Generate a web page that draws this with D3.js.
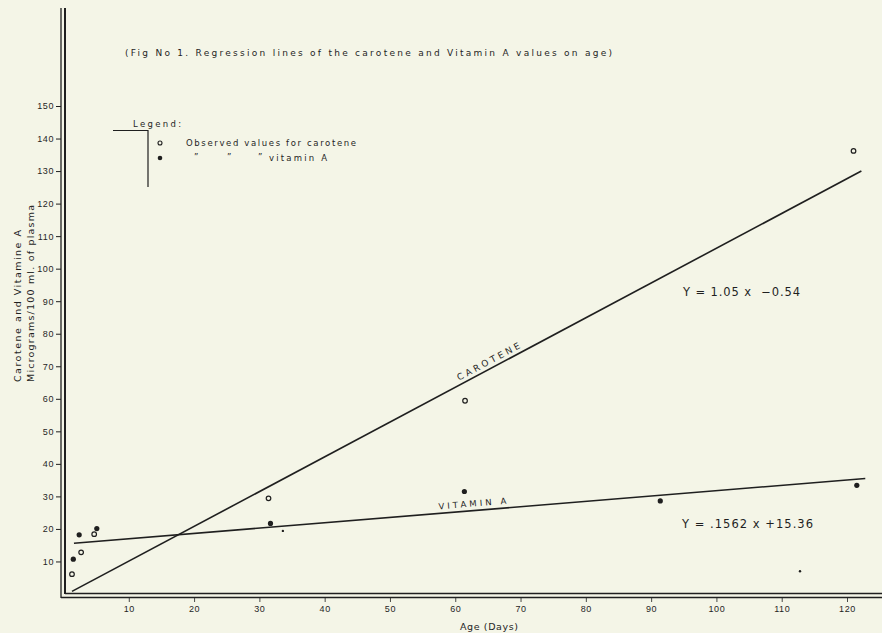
<!DOCTYPE html>
<html>
<head>
<meta charset="utf-8">
<script src="https://cdn.jsdelivr.net/npm/d3@7"></script>
<style>
  body { margin: 0; background: #f4f5e7; }
  svg { display: block; font-family: "DejaVu Sans", sans-serif; }
  .axis text { font-size: 9px; fill: #1f1f1f; }
  .axis line { stroke: #1f1f1f; }
</style>
</head>
<body>
<script>
// Values
let yTicks = [10, 20, 30, 40, 50, 60, 70, 80, 90, 100, 110, 120, 130, 140, 150];
let xTicks = [10, 20, 30, 40, 50, 60, 70, 80, 90, 100, 110, 120];

// observed carotene (open circles)
let caroteneAge = [1.3, 2.7, 4.7, 31.4, 61.5, 121];
let caroteneVal = [6.1, 12.8, 18.4, 29.4, 59.4, 136.2];

// observed vitamin A (filled dots)
let vitaminAge = [1.5, 2.4, 5.1, 31.7, 61.4, 91.4, 121.5];
let vitaminVal = [10.7, 18.2, 20.1, 21.7, 31.5, 28.6, 33.4];

// small unlabelled dots
let looseAge = [33.6, 112.8];
let looseVal = [19.4, 7.0];

// regression lines as drawn (end points)
let caroteneFitX = [1.3, 122.2];
let caroteneFitY = [0.8, 130];
let vitaminFitX = [1.6, 122.8];
let vitaminFitY = [15.6, 35.5];

let ink = "#1f1f1f";
let width = 882, height = 633;

let svg = d3.select("body").append("svg")
    .attr("width", width)
    .attr("height", height);

svg.append("rect").attr("width", width).attr("height", height).attr("fill", "#f4f5e7");

// scales
let x = d3.scaleLinear().domain([0, 120]).range([63.5, 847]);
let y = d3.scaleLinear().domain([0, 150]).range([594, 106]);

// double axis lines
let x0 = x(0), y0 = y(0);
svg.append("line").attr("x1", x0 - 2.5).attr("x2", x0 - 2.5).attr("y1", 8).attr("y2", y0 + 4)
    .attr("stroke", ink).attr("stroke-width", 1.3);
svg.append("line").attr("x1", x0 + 1.5).attr("x2", x0 + 1.5).attr("y1", 8).attr("y2", y0)
    .attr("stroke", ink).attr("stroke-width", 2);
svg.append("line").attr("x1", x0 - 2.5).attr("x2", width).attr("y1", y0 + 3.5).attr("y2", y0 + 3.5)
    .attr("stroke", ink).attr("stroke-width", 1.4);
svg.append("line").attr("x1", x0 + 1.5).attr("x2", width).attr("y1", y0 - 0.5).attr("y2", y0 - 0.5)
    .attr("stroke", ink).attr("stroke-width", 1.4);

// y axis
let yAxis = d3.axisLeft(y).tickValues(yTicks).tickSize(5).tickPadding(2);
let gy = svg.append("g").attr("class", "axis")
    .attr("transform", "translate(" + (x0 - 2.5) + ",0)")
    .call(yAxis);
gy.select(".domain").remove();
gy.selectAll("text").attr("letter-spacing", "0.6px");

// x axis
let xAxis = d3.axisBottom(x).tickValues(xTicks).tickSize(4).tickPadding(4);
let gx = svg.append("g").attr("class", "axis")
    .attr("transform", "translate(0," + (y0 + 4) + ")")
    .call(xAxis);
gx.select(".domain").remove();
gx.selectAll("line").attr("stroke-width", 0.8);
gx.selectAll("text").attr("letter-spacing", "0.6px");

// axis titles
svg.append("text")
    .attr("x", 489).attr("y", 630)
    .attr("text-anchor", "middle")
    .attr("font-size", "9.5px").attr("fill", ink)
    .attr("textLength", 58).attr("lengthAdjust", "spacing")
    .text("Age (Days)");

svg.append("text")
    .attr("transform", "translate(21,382) rotate(-90)")
    .attr("font-size", "9.5px").attr("fill", ink)
    .attr("textLength", 152).attr("lengthAdjust", "spacing")
    .text("Carotene and Vitamine A");
svg.append("text")
    .attr("transform", "translate(34,382) rotate(-90)")
    .attr("font-size", "9.5px").attr("fill", ink)
    .attr("textLength", 177).attr("lengthAdjust", "spacing")
    .text("Micrograms/100 ml. of plasma");

// title
svg.append("text")
    .attr("x", 125).attr("y", 56)
    .attr("font-size", "9px").attr("fill", ink)
    .attr("textLength", 487).attr("lengthAdjust", "spacing")
    .text("(Fig No 1. Regression lines of the carotene and Vitamin A values on age)");

// regression lines
let line = d3.line().x(d => x(d[0])).y(d => y(d[1]));
let carLine = d3.zip(caroteneFitX, caroteneFitY);
let vitLine = d3.zip(vitaminFitX, vitaminFitY);

svg.append("path").attr("d", line(carLine))
    .attr("fill", "none").attr("stroke", ink).attr("stroke-width", 1.6);
svg.append("path").attr("d", line(vitLine))
    .attr("fill", "none").attr("stroke", ink).attr("stroke-width", 1.6);

// labels along the lines
function lineLabel(pts, atX, label, size, len) {
    let p0 = pts[0], p1 = pts[1];
    let t = (atX - p0[0]) / (p1[0] - p0[0]);
    let v = p0[1] + t * (p1[1] - p0[1]);
    let ang = Math.atan2(y(p1[1]) - y(p0[1]), x(p1[0]) - x(p0[0])) * 180 / Math.PI;
    svg.append("text")
        .attr("transform", "translate(" + x(atX) + "," + y(v) + ") rotate(" + ang + ")")
        .attr("y", -4)
        .attr("text-anchor", "middle")
        .attr("font-size", size).attr("fill", ink)
        .attr("textLength", len).attr("lengthAdjust", "spacing")
        .text(label);
}
lineLabel(carLine, 65.6, "CAROTENE", "9px", 70);
lineLabel(vitLine, 62.7, "VITAMIN A", "8.5px", 68);

// equations
svg.append("text")
    .attr("x", 683).attr("y", 296)
    .attr("font-size", "11.5px").attr("fill", ink)
    .attr("textLength", 117).attr("lengthAdjust", "spacing")
    .attr("xml:space", "preserve")
    .text("Y = 1.05 x  \u22120.54");
svg.append("text")
    .attr("x", 682).attr("y", 528)
    .attr("font-size", "11.5px").attr("fill", ink)
    .attr("textLength", 131).attr("lengthAdjust", "spacing")
    .attr("xml:space", "preserve")
    .text("Y = .1562 x +15.36");

// observed points
svg.append("g").selectAll("circle")
    .data(d3.zip(caroteneAge, caroteneVal))
    .join("circle")
    .attr("cx", d => x(d[0])).attr("cy", d => y(d[1]))
    .attr("r", 2.3)
    .attr("fill", "none").attr("stroke", ink).attr("stroke-width", 1.2);

svg.append("g").selectAll("circle")
    .data(d3.zip(vitaminAge, vitaminVal))
    .join("circle")
    .attr("cx", d => x(d[0])).attr("cy", d => y(d[1]))
    .attr("r", 2.6)
    .attr("fill", ink);

svg.append("g").selectAll("circle")
    .data(d3.zip(looseAge, looseVal))
    .join("circle")
    .attr("cx", d => x(d[0])).attr("cy", d => y(d[1]))
    .attr("r", 1.2)
    .attr("fill", ink);

// legend
let legend = svg.append("g");
legend.append("text")
    .attr("x", 133).attr("y", 127)
    .attr("font-size", "8.5px").attr("fill", ink)
    .attr("textLength", 48).attr("lengthAdjust", "spacing")
    .text("Legend:");
legend.append("path")
    .attr("d", "M113,130.5H148V187")
    .attr("fill", "none").attr("stroke", ink).attr("stroke-width", 1.2);
legend.append("circle").attr("cx", 160).attr("cy", 143).attr("r", 2)
    .attr("fill", "none").attr("stroke", ink).attr("stroke-width", 1.1);
legend.append("circle").attr("cx", 160).attr("cy", 158).attr("r", 2.3)
    .attr("fill", ink);
legend.append("text")
    .attr("x", 186).attr("y", 146)
    .attr("font-size", "8.5px").attr("fill", ink)
    .attr("textLength", 170).attr("lengthAdjust", "spacing")
    .text("Observed values for carotene");
let ditto = [194, 227, 258];
legend.selectAll("text.ditto")
    .data(ditto)
    .join("text")
    .attr("class", "ditto")
    .attr("x", d => d).attr("y", 160)
    .attr("font-size", "8.5px").attr("fill", ink)
    .text("\u201D");
legend.append("text")
    .attr("x", 269).attr("y", 161)
    .attr("font-size", "8.5px").attr("fill", ink)
    .attr("textLength", 58).attr("lengthAdjust", "spacing")
    .text("vitamin A");
</script>
</body>
</html>
